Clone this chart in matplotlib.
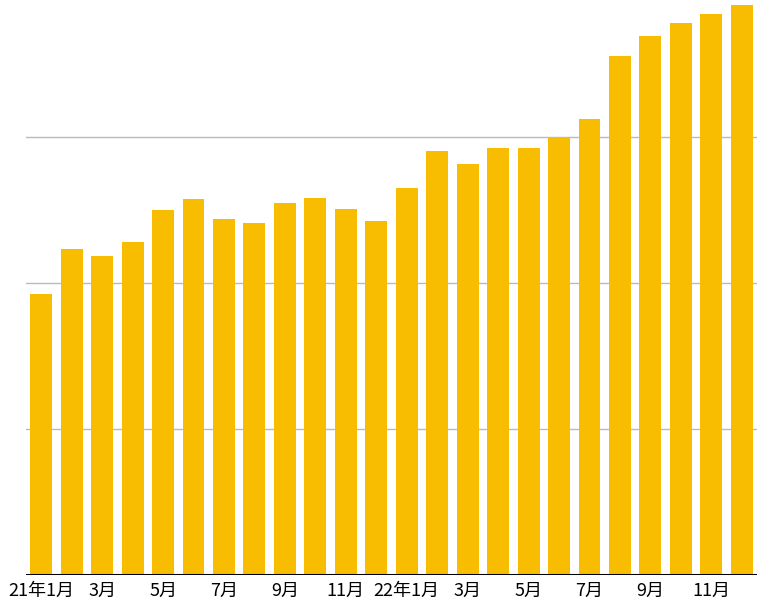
import numpy as np
import matplotlib
matplotlib.use("Agg")
import matplotlib.pyplot as plt

plt.rcParams['font.family'] = ['Noto Sans CJK JP', 'DejaVu Sans']

# monthly values, Jan 2021 - Dec 2022 (grid step = 100)
months = ["21年1月", "2月", "3月", "4月", "5月", "6月", "7月", "8月", "9月", "10月", "11月", "12月",
          "22年1月", "2月", "3月", "4月", "5月", "6月", "7月", "8月", "9月", "10月", "11月", "12月"]
values = [192.5, 223.3, 218.5, 228.1, 250.0, 257.5, 243.8, 241.1, 254.8, 258.2, 250.7, 242.5,
          265.1, 290.4, 281.5, 292.5, 292.5, 299.3, 312.3, 355.5, 369.2, 378.1, 384.2, 390.4]
grid_levels = [100, 200, 300]

fig = plt.figure(figsize=(7.6, 6.1), dpi=100)
ax = fig.add_axes([26 / 760, 35 / 610, 731 / 760, 575 / 610])

x = np.arange(len(values))
ax.bar(x, values, width=0.72, color='#F8BC00', zorder=2)

for g in grid_levels:
    ax.axhline(g, color='#BBBBBB', lw=1.0, zorder=1)
ax.axhline(0, color='black', lw=2.2, zorder=3)

ax.set_xlim(-0.5, len(values) - 0.5)
ax.set_ylim(0, 575 / 146.1 * 100)

ax.set_xticks(x[::2])
ax.set_xticklabels(months[::2], fontsize=13)
ax.tick_params(axis='x', length=0, pad=5)
ax.set_yticks([])
for s in ax.spines.values():
    s.set_visible(False)

fig.savefig("out.png", dpi=100)
